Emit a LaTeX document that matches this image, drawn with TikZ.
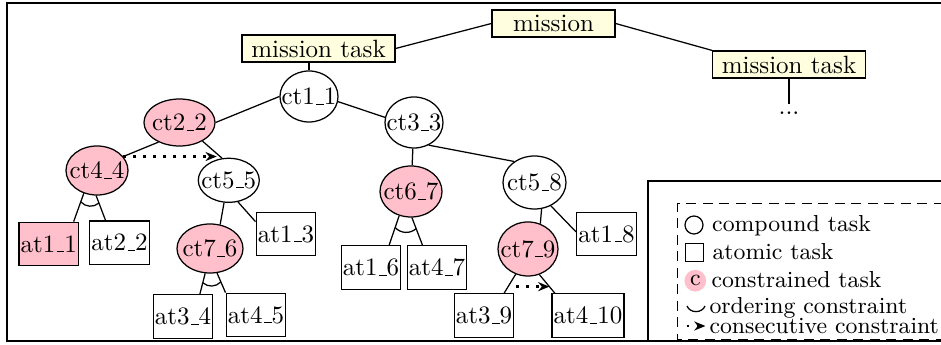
\documentclass[tikz,border=0pt]{standalone}
\usetikzlibrary{arrows.meta,shapes.geometric,calc}
\definecolor{taskpink}{RGB}{255,192,203}
\definecolor{missionfill}{RGB}{255,255,224}
% short low underscore, as in the classic OT1 \_
\newcommand\usc{\leavevmode\kern.06em\vbox{\hrule width.3em}}
\begin{document}
\begin{tikzpicture}[x=0.4pt,y=-0.4pt,
  every node/.style={font=\fontsize{10}{12}\selectfont},
  mbox/.style={draw, fill=missionfill, line width=0.5pt, inner xsep=3.7pt, inner ysep=0pt, minimum height=10.8pt},
  ctask/.style 2 args={ellipse, draw, line width=0.5pt, inner xsep=-5pt, inner ysep=0pt, minimum width=#1, minimum height=#2},
  ctaskc/.style 2 args={ctask={#1}{#2}, fill=taskpink},
  atask/.style={draw, line width=0.5pt, inner xsep=0.7pt, inner ysep=0pt, minimum height=17.4pt},
  link/.style={line width=0.5pt},
  ordarc/.style={line width=0.5pt},
  consec/.style={line width=1.1pt, dash pattern=on 1.1pt off 2.9pt, -{Stealth[length=4.5pt,width=3.6pt]}},
  frame/.style={line width=0.7pt},
  dashbox/.style={line width=0.5pt, dash pattern=on 4pt off 2.6pt},
  lgtext/.style={font=\fontsize{9.25}{11}\selectfont, anchor=base west, inner sep=0pt},
]
\useasboundingbox (0,0) rectangle (941,345);
\clip (0,0) rectangle (941,345);

% mission level
\node[mbox, minimum width=49.2pt, inner xsep=0pt] (mission) at (553.5,23.5) {mission};
\node[mbox] (mt1) at (318.5,48.5) {mission task};
\node[mbox] (mt2) at (789,64.5) {mission task};
\node[anchor=base, inner sep=3.33pt] (more) at (789,115) {...};

% compound tasks
\node[ctask={23.2pt}{20.4pt}] (ct1) at (309,96.5) {ct1\usc1};
\node[ctaskc={28.4pt}{18.8pt}] (ct2) at (179.5,122.5) {ct2\usc2};
\node[ctask={23.2pt}{20.4pt}] (ct3) at (414,122.5) {ct3\usc3};
\node[ctaskc={24.8pt}{19.6pt}] (ct4) at (97,170.5) {ct4\usc4};
\node[ctask={24.4pt}{17.6pt}] (ct5) at (228.8,180.3) {ct5\usc5};
\node[ctaskc={24.8pt}{20.4pt}] (ct6) at (411,191.5) {ct6\usc7};
\node[ctask={25.2pt}{21.2pt}] (ct58) at (534.5,182.5) {ct5\usc8};
\node[ctaskc={26.4pt}{19.6pt}] (ct76) at (210,248.5) {ct7\usc6};
\node[ctaskc={24pt}{21.6pt}] (ct79) at (528,249) {ct7\usc9};

% atomic tasks
\node[atask, fill=taskpink] (at11) at (48.8,244) {at1\usc1};
\node[atask] (at22) at (119.5,242.7) {at2\usc2};
\node[atask] (at13) at (286,234) {at1\usc3};
\node[atask] (at34) at (183,316.5) {at3\usc4};
\node[atask] (at45) at (256,315) {at4\usc5};
\node[atask] (at16) at (371,267.5) {at1\usc6};
\node[atask] (at47) at (437,267.5) {at4\usc7};
\node[atask] (at39) at (484,315.5) {at3\usc9};
\node[atask] (at410) at (588,315.5) {at4\usc10};
\node[atask] (at18) at (606.5,234) {at1\usc8};

% decomposition edges
\draw[link] (mission.west) -- (mt1.east);
\draw[link] (mission.east) -- (mt2.north west);
\draw[link] (ct1.north) -- (ct1.north |- mt1.south);
\draw[link] (mt2.south) -- (more.north);
\draw[link] (ct1.west) -- (ct2.east);
\draw[link] (ct1.-10) -- (ct3.170);
\draw[link] (ct2.223) -- (ct4.28);
\draw[link] (ct2.-39) -- (ct5.107);
\draw[consec] (ct4.28) -- (ct4.28 -| ct5.120);
\draw[link] (ct3) -- (ct6);
\draw[link] (ct3.-57) -- (ct58.134);
\draw[link] (ct4.-120) -- coordinate[pos=.3] (o4l) (at11.42);
\draw[link] (ct4.-92) -- coordinate[pos=.3] (o4r) (at22.122);
\draw[ordarc] (o4l) to[bend right=45] (o4r);
\draw[link] (ct5.-102) -- (ct76.67);
\draw[link] (ct5.-67) -- (at13.158);
\draw[link] (ct76.-101) -- coordinate[pos=.45] (o76l) (at34.53);
\draw[link] (ct76.-74) -- coordinate[pos=.45] (o76r) (at45.north west);
\draw[ordarc] (o76l) to[bend right=45] (o76r);
\draw[link] (ct6.-116) -- coordinate[pos=.4] (o6l) (at16.51);
\draw[link] (ct6.-88) -- coordinate[pos=.4] (o6r) (at47.123);
\draw[ordarc] (o6l) to[bend right=45] (o6r);
\draw[link] (ct58.-75) -- (ct79.64);
\draw[link] (ct58.-55) -- (at18.176);
\draw[link] (ct79.-116) -- (at39.48);
\draw[link] (ct79.-66) -- coordinate[pos=.65] (r79) (at410.146);
\draw[consec] (r79 -| ct79.245) -- (r79);

% frames
\draw[frame] (960,2.7) -- (7.3,2.7) -- (7.3,340.7) -- (960,340.7);
\draw[frame] (648,340.7) -- (648,180.7) -- (960,180.7);
\draw[dashbox] (960,203.3) -- (677.7,203.3) -- (677.7,339.5) -- (960,339.5);

% legend
\node[draw, circle, line width=0.5pt, minimum size=7.2pt, inner sep=0pt] (sym1) at (694,225) {};
\node[lgtext] (lg1) at (711.7,231.7) {compound task};
\node[draw, line width=0.5pt, minimum size=7.2pt, inner sep=0pt] (sym2) at (694.5,252.3) {};
\node[lgtext] (lg2) at (712,260) {atomic task};
\node[circle, fill=taskpink, minimum size=8.7pt, inner sep=0pt, font=\fontsize{9.25}{11}\selectfont] (sym3) at (695.3,280.7) {c};
\node[lgtext] (lg3) at (711,287.7) {constrained task};
\draw[ordarc] (687,306) .. controls (690,313.5) and (702,313.5) .. (705,306);
\node[lgtext] (lg4) at (709,313.3) {ordering constraint};
\draw[consec] (686.5,326) -- (705.5,326);
\node[lgtext] (lg5) at (709,334) {consecutive constraint};
\end{tikzpicture}
\end{document}
